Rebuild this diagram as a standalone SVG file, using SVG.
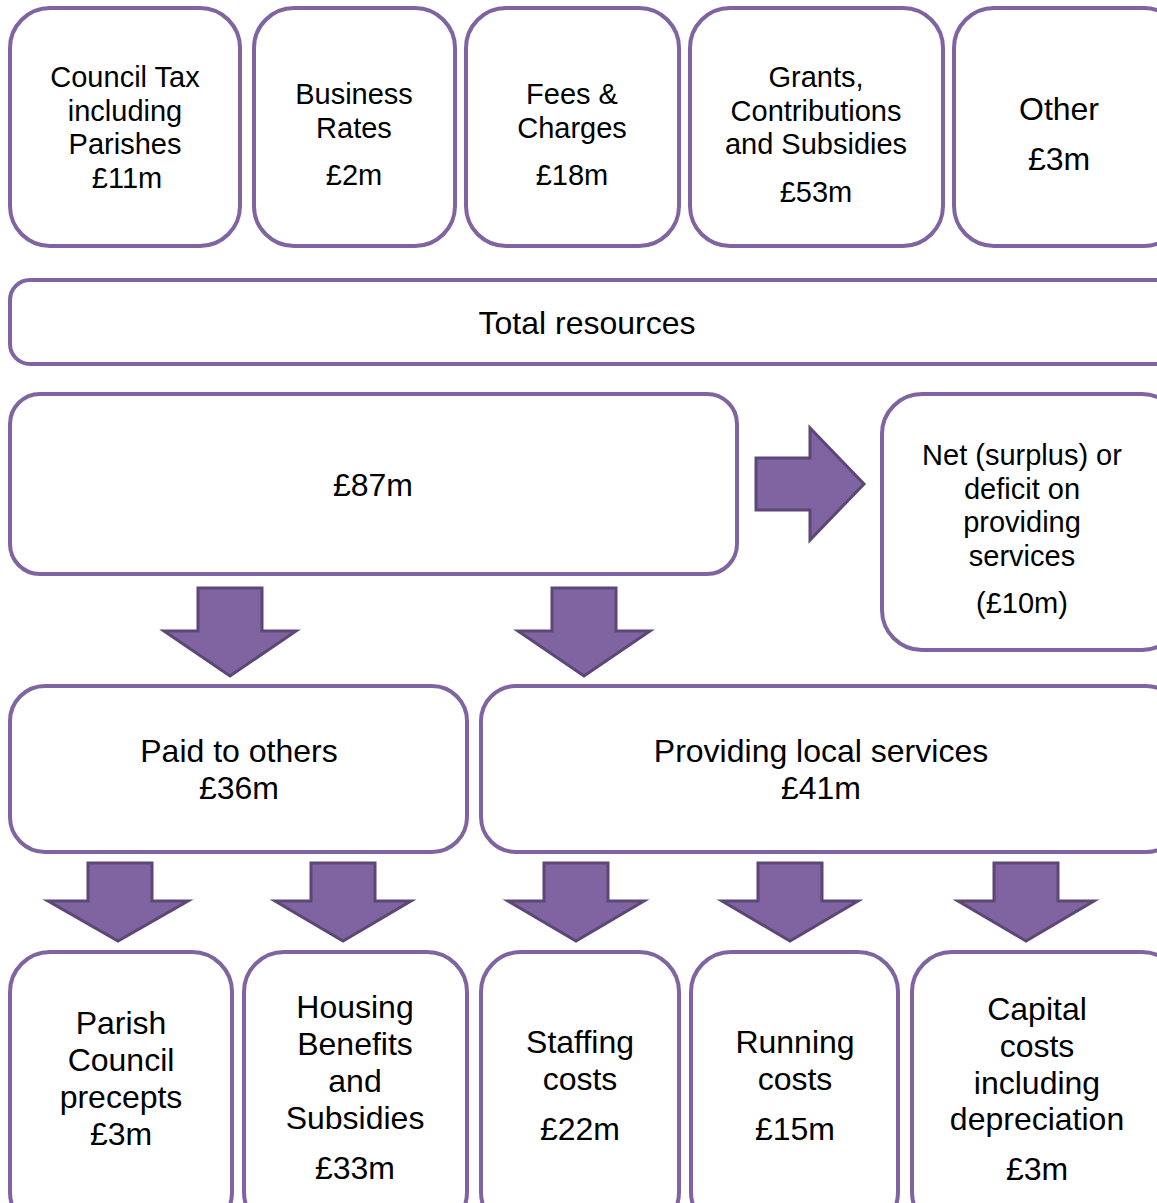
<svg xmlns="http://www.w3.org/2000/svg" width="1157" height="1203" viewBox="0 0 1157 1203">
<style>
.box{fill:#fff;stroke:#8064A2;stroke-width:4}
.arr{fill:#8064A2;stroke:#5C4776;stroke-width:3;stroke-linejoin:miter}
text{font-family:"Liberation Sans",Arial,sans-serif;fill:#000;text-anchor:middle}
.s{font-size:29px}
.l{font-size:32px}
</style>
<rect width="1157" height="1203" fill="#fff"/>
<g id="n1"><rect class="box" x="10" y="8" width="230" height="238" rx="40"/>
<text class="s"><tspan x="125" y="87">Council Tax</tspan><tspan x="125" y="121">including</tspan><tspan x="125" y="154">Parishes</tspan><tspan x="127" y="188">£11m</tspan></text></g>
<g id="n2"><rect class="box" x="254" y="8" width="201" height="238" rx="40"/>
<text class="s"><tspan x="354" y="104">Business</tspan><tspan x="354" y="138">Rates</tspan><tspan x="354" y="185">£2m</tspan></text></g>
<g id="n3"><rect class="box" x="466" y="8" width="213" height="238" rx="40"/>
<text class="s"><tspan x="572" y="104">Fees &amp;</tspan><tspan x="572" y="138">Charges</tspan><tspan x="572" y="185">£18m</tspan></text></g>
<g id="n4"><rect class="box" x="690" y="8" width="253" height="238" rx="40"/>
<text class="s"><tspan x="816" y="87">Grants,</tspan><tspan x="816" y="121">Contributions</tspan><tspan x="816" y="154">and Subsidies</tspan><tspan x="816" y="202">£53m</tspan></text></g>
<g id="n5"><rect class="box" x="954" y="8" width="230" height="238" rx="40"/>
<text class="l"><tspan x="1059" y="120">Other</tspan><tspan x="1059" y="170">£3m</tspan></text></g>
<g id="n6"><rect class="box" x="10" y="280" width="1180" height="84" rx="20"/>
<text class="l" x="587" y="334">Total resources</text></g>
<g id="n7"><rect class="box" x="10" y="394" width="727" height="180" rx="30"/>
<text class="l" x="373" y="496">£87m</text></g>
<g id="n8"><rect class="box" x="882" y="394" width="300" height="256" rx="40"/>
<text class="s"><tspan x="1022" y="465">Net (surplus) or</tspan><tspan x="1022" y="499">deficit on</tspan><tspan x="1022" y="532">providing</tspan><tspan x="1022" y="566">services</tspan><tspan x="1022" y="613">(£10m)</tspan></text></g>
<g id="n9"><rect class="box" x="10" y="686" width="457" height="166" rx="35"/>
<text class="l"><tspan x="239" y="762">Paid to others</tspan><tspan x="239" y="799">£36m</tspan></text></g>
<g id="n10"><rect class="box" x="481" y="686" width="700" height="166" rx="35"/>
<text class="l"><tspan x="821" y="762">Providing local services</tspan><tspan x="821" y="799">£41m</tspan></text></g>
<g id="n11"><rect class="box" x="10" y="952" width="222" height="280" rx="40"/>
<text class="l"><tspan x="121" y="1034">Parish</tspan><tspan x="121" y="1071">Council</tspan><tspan x="121" y="1108">precepts</tspan><tspan x="121" y="1145">£3m</tspan></text></g>
<g id="n12"><rect class="box" x="244" y="952" width="223" height="280" rx="40"/>
<text class="l"><tspan x="355" y="1018">Housing</tspan><tspan x="355" y="1055">Benefits</tspan><tspan x="355" y="1092">and</tspan><tspan x="355" y="1129">Subsidies</tspan><tspan x="355" y="1179">£33m</tspan></text></g>
<g id="n13"><rect class="box" x="481" y="952" width="198" height="280" rx="40"/>
<text class="l"><tspan x="580" y="1053">Staffing</tspan><tspan x="580" y="1090">costs</tspan><tspan x="580" y="1140">£22m</tspan></text></g>
<g id="n14"><rect class="box" x="691" y="952" width="207" height="280" rx="40"/>
<text class="l"><tspan x="795" y="1053">Running</tspan><tspan x="795" y="1090">costs</tspan><tspan x="795" y="1140">£15m</tspan></text></g>
<g id="n15"><rect class="box" x="912" y="952" width="270" height="280" rx="40"/>
<text class="l"><tspan x="1037" y="1020">Capital</tspan><tspan x="1037" y="1057">costs</tspan><tspan x="1037" y="1094">including</tspan><tspan x="1037" y="1130">depreciation</tspan><tspan x="1037" y="1180">£3m</tspan></text></g>
<g id="connectors">
<polygon class="arr" points="756,458 810,458 810,428 864,484 810,540 810,510 756,510"/>
<polygon class="arr" points="198,588 262,588 262,631 296,631 230,676 164,631 198,631"/>
<polygon class="arr" points="552,588 616,588 616,631 650,631 584,676 518,631 552,631"/>
<polygon class="arr" points="88,863 152,863 152,901 188,901 118,941 48,901 88,901"/>
<polygon class="arr" points="311,863 375,863 375,901 411,901 343,941 275,901 311,901"/>
<polygon class="arr" points="544,863 608,863 608,901 644,901 576,941 508,901 544,901"/>
<polygon class="arr" points="758,863 822,863 822,901 858,901 790,941 722,901 758,901"/>
<polygon class="arr" points="994,863 1058,863 1058,901 1094,901 1026,941 958,901 994,901"/>
</g>
</svg>
